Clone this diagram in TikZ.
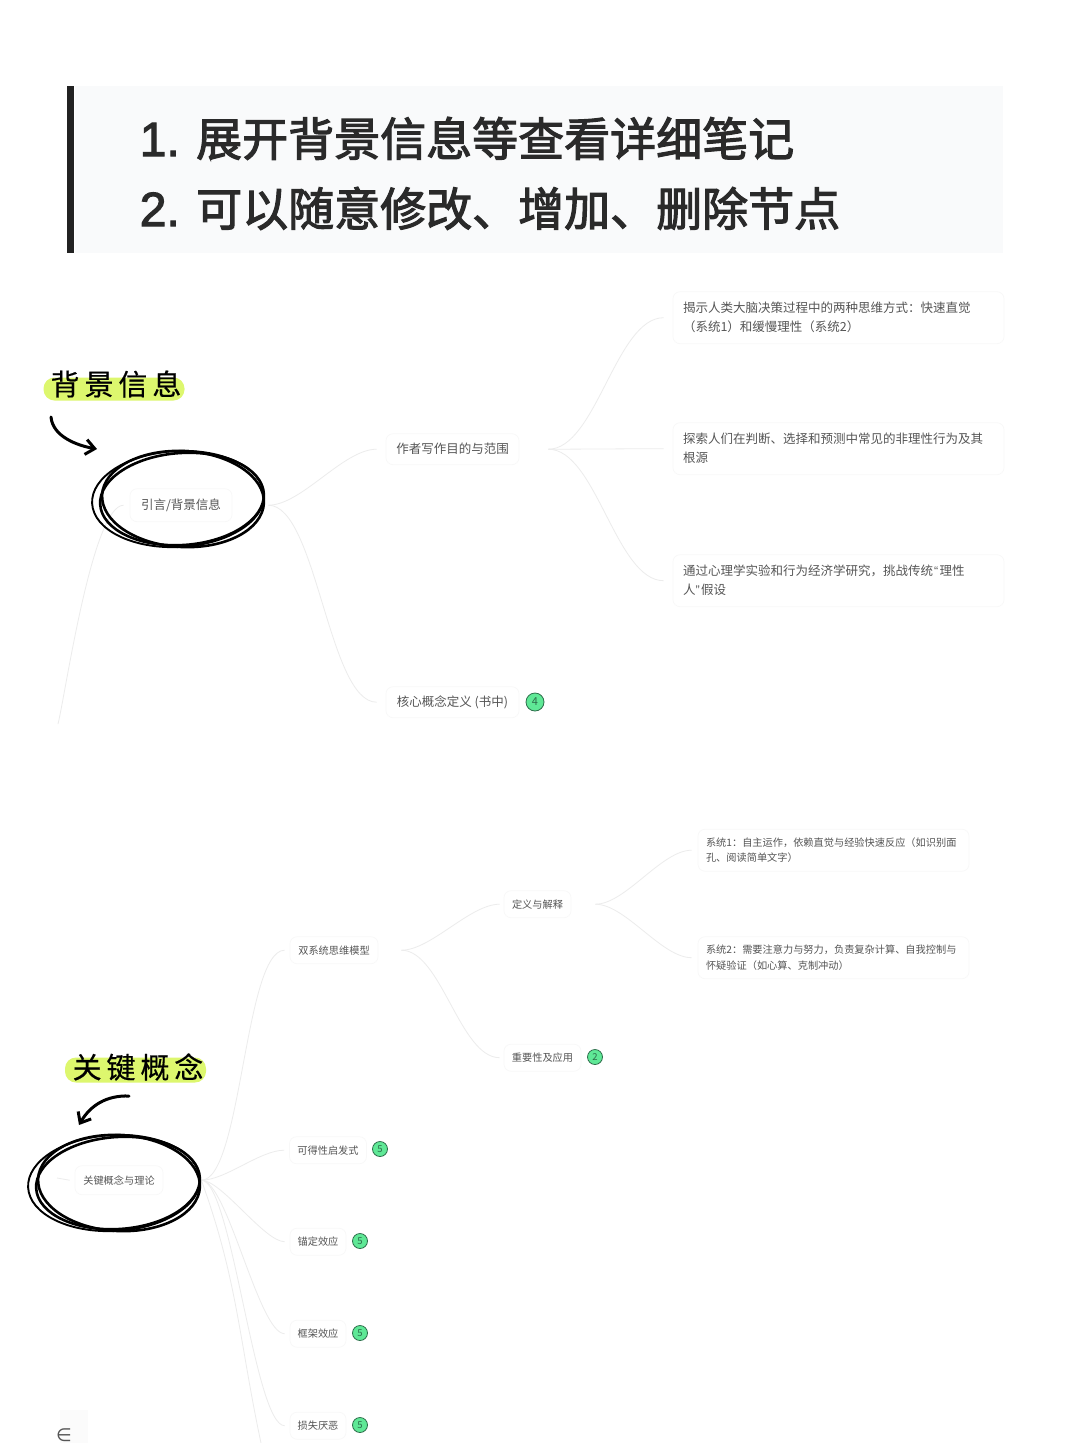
\documentclass[tikz,border=0pt]{standalone}
\usepackage{fontspec}
\setmainfont{Noto Sans CJK SC}
\newfontfamily\iconfont{DejaVu Sans}
\newfontfamily\latinfont{Liberation Sans}
\newfontfamily\titlefont[FakeBold=2.4]{Noto Sans CJK SC}
\newfontfamily\titlenum[FakeBold=2.4]{Liberation Sans}
\newfontfamily\scrawlfont[LetterSpace=17, FakeBold=.5]{Noto Sans CJK SC}
\usetikzlibrary{arrows.meta, positioning}
\definecolor{mmpanel}{RGB}{249, 250, 251}
\definecolor{mmbar}{RGB}{34, 34, 34}
\definecolor{mmtitle}{RGB}{42, 42, 42}
\definecolor{mmtext}{RGB}{85, 85, 85}
\definecolor{mmedge}{RGB}{236, 236, 236}
\definecolor{mmframe}{RGB}{248, 248, 248}
\definecolor{mmgreen}{RGB}{95, 232, 150}
\definecolor{mmgreendark}{RGB}{45, 110, 75}
\definecolor{mmmark}{RGB}{221, 247, 110}
\tikzset{
  headline/.style={anchor=base west, inner sep=0pt, text=mmtitle, font=\fontsize{46}{46}\selectfont\titlefont},
  headnum/.style={anchor=base east, inner sep=0pt, text=mmtitle, font=\fontsize{48}{48}\selectfont\titlenum},
  topic/.style={draw=mmframe, fill=white, rounded corners=7pt, line width=.7pt, text=mmtext, inner sep=0pt, yshift=-.7pt, minimum height=31pt, font=\fontsize{12.5}{19}\selectfont},
  subtopic/.style={topic, minimum height=27pt, font=\fontsize{10.2}{15.5}\selectfont},
  leaf/.style={topic, align=left, text width=311pt, minimum width=331pt, minimum height=52pt},
  subleaf/.style={subtopic, align=left, text width=255pt, minimum width=271pt, minimum height=42pt},
  badge/.style={circle, draw=mmgreendark, fill=mmgreen, line width=.8pt, inner sep=0pt, minimum size=18pt, text=mmgreendark, font=\fontsize{11}{11}\selectfont},
  subbadge/.style={badge, minimum size=15pt, font=\fontsize{9.5}{9.5}\selectfont},
  link/.style={draw=mmedge, line width=.8pt},
  branch/.style={out=0, in=180, looseness=.7},
  marker/.style={fill=mmmark, rounded corners=11pt, inner sep=0pt},
  scrawl/.style={text=black, font=\fontsize{29}{29}\selectfont\scrawlfont},
  ring/.style={draw=black, line width=2.6pt},
  hand/.style={draw=black, line width=3pt, line cap=round, -{Straight Barb[length=9pt, width=15pt]}},
}
\begin{document}
\begin{tikzpicture}[x=1pt, y=-1pt]
\useasboundingbox (0,0) rectangle (1080,1443);
\fill[white] (0,0) rectangle (1080,1443);

% header panel
\fill[mmpanel] (75,86) rectangle (1003,253);
\fill[mmbar] (67,86) rectangle (74,253);
\node[headnum] (numA) at (180,156) {1.};
\node[headline] (titleA) at (196,156) {展开背景信息等查看详细笔记};
\node[headnum] (numB) at (180,226) {2.};
\node[headline] (titleB) at (196,226) {可以随意修改、增加、删除节点};

% upper map
\node[topic, minimum width=102pt, minimum height=33pt] (intro) at (181,504.5) {引言/背景信息};
\node[topic, minimum width=133pt] (purpose) at (452.5,448.5) {作者写作目的与范围};
\node[topic, minimum width=133pt] (core) at (452.5,701.5) {核心概念定义 (书中)};
\node[badge] (coreN) at (535,702) {4};
\node[leaf] (goalA) at (838.5,317) {揭示人类大脑决策过程中的两种思维方式：快速直觉\\（系统1）和缓慢理性（系统2）};
\node[leaf] (goalB) at (838.5,448) {探索人们在判断、选择和预测中常见的非理性行为及其\\根源};
\node[leaf] (goalC) at (838.5,580) {通过心理学实验和行为经济学研究，挑战传统\kern1pt{\latinfont “}\kern1.5pt理性\\人{\latinfont ”}\kern1.5pt假设};
\coordinate (rootA) at (58,724);

\draw[link] ([xshift=-6pt]intro.west) to[out=180, in=76, looseness=.35] (rootA);
\draw[link] ([xshift=36pt]intro.east) to[branch] ([xshift=-9pt]purpose.west);
\draw[link] ([xshift=36pt]intro.east) to[branch, looseness=.55] ([xshift=-9pt]core.west);
\foreach \goal in {goalA, goalB, goalC}
  \draw[link] ([xshift=29pt]purpose.east) to[branch] ([xshift=-9pt]\goal.west);

% lower map
\node[subtopic, minimum width=88pt, minimum height=29pt] (theory) at (119,1179.5) {关键概念与理论};
\node[subtopic, minimum width=88pt] (dual) at (334,949.5) {双系统思维模型};
\node[subtopic, minimum width=67pt] (define) at (537.5,903.5) {定义与解释};
\node[subtopic, minimum width=77pt] (usage) at (542.5,1057) {重要性及应用};
\node[subbadge] (usageN) at (595,1057) {2};
\node[subleaf] (sysA) at (833.5,849.5) {系统1：自主运作，依赖直觉与经验快速反应（如识别面\\孔、阅读简单文字）};
\node[subleaf] (sysB) at (833.5,957) {系统2：需要注意力与努力，负责复杂计算、自我控制与\\怀疑验证（如心算、克制冲动）};
\node[subtopic, minimum width=77pt] (avail) at (328,1149.5) {可得性启发式};
\node[subbadge] (availN) at (380,1149) {5};
\node[subtopic, minimum width=56pt] (anchorfx) at (318,1241) {锚定效应};
\node[subbadge] (anchorN) at (360,1241) {5};
\node[subtopic, minimum width=56pt] (framefx) at (318,1333) {框架效应};
\node[subbadge] (frameN) at (360,1333) {5};
\node[subtopic, minimum width=56pt] (lossfx) at (318,1425) {损失厌恶};
\node[subbadge] (lossN) at (360,1425) {5};
\coordinate (rootB) at (57,1178);
\coordinate (moreB) at (261,1443);

\draw[link] ([xshift=-5pt]theory.west) -- (rootB);
\foreach \kid/\bend in {dual/.42, avail/.7, anchorfx/.5, framefx/.38, lossfx/.3}
  \draw[link] ([xshift=38pt]theory.east) to[branch, looseness=\bend] ([xshift=-5pt]\kid.west);
\draw[link] ([xshift=38pt]theory.east) to[out=-70, in=102] (moreB);
\foreach \kid in {define, usage}
  \draw[link] ([xshift=23pt]dual.east) to[branch] ([xshift=-4pt]\kid.west);
\foreach \kid in {sysA, sysB}
  \draw[link] ([xshift=24pt]define.east) to[branch] ([xshift=-6pt]\kid.west);

% hand marks
\foreach \cx/\cy in {183/499, 119/1183} {
  \draw[ring] (\cx,\cy) ellipse [x radius=81pt, y radius=48pt, rotate=-3];
  \draw[ring] (\cx-1,\cy) ellipse [x radius=82pt, y radius=46pt, rotate=4];
  \draw[ring, line width=1.9pt] (\cx-5,\cy) ellipse [x radius=86pt, y radius=48pt, rotate=3];
}
\node[marker, minimum width=141pt, minimum height=23pt] (markA) at (114,389) {};
\node[scrawl] (labelA) at (116,384) {背景信息};
\node[marker, minimum width=141pt, minimum height=25pt] (markB) at (135.5,1070) {};
\node[scrawl] (labelB) at (138,1067) {关键概念};
\coordinate (handA) at (51,417);
\coordinate (tipA) at (97,449);
\coordinate (handB) at (129,1096);
\coordinate (tipB) at (79,1125);
\draw[hand] (handA) to[out=-85, in=170, looseness=.9] (tipA);
\draw[hand] (handB) to[out=178, in=60] (tipB);

% collapse button
\fill[black!1.5] (60,1410) rectangle (88,1443);
\node[text=mmtext, inner sep=0pt, font=\iconfont\fontsize{18}{18}\selectfont] (fold) at (64,1435) {∈};
\end{tikzpicture}
\end{document}
